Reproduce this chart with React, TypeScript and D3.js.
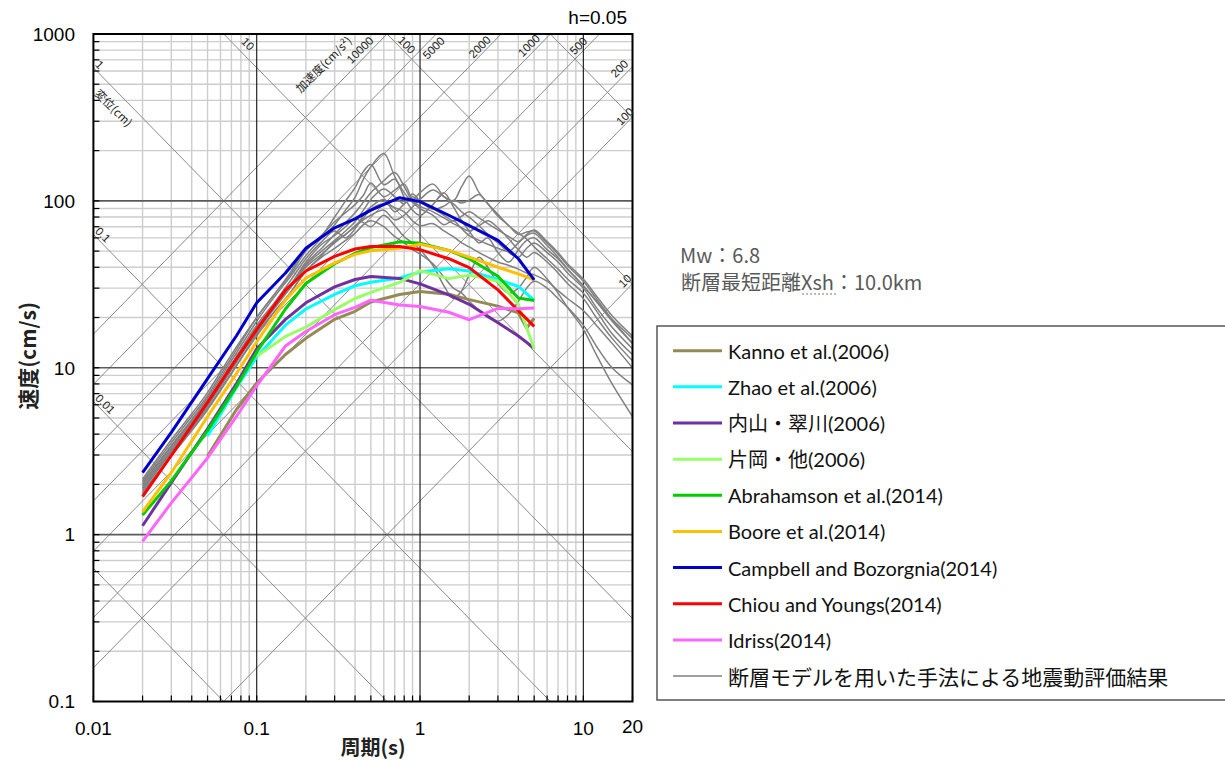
import React from 'react';
import * as d3 from 'd3';

// ---------------- data ----------------
const periods = [0.02, 0.03, 0.05, 0.075, 0.1, 0.15, 0.2, 0.3, 0.4, 0.5, 0.75, 1, 1.5, 2, 3, 4, 4.5, 5];

const kanno = [null, null, 2.96, 5.6, 8.1, 12.0, 15.0, 19.5, 21.8, 24.8, 27.5, 28.6, 27.6, 25.6, 23.4, 21.3, 17.3, 19.8];
const zhao = [null, null, 3.9, 7.6, 11.6, 18.0, 22.5, 27.5, 31.0, 32.5, 34.5, 37.5, 39.2, 38.0, 33.8, 30.7, null, 25.3];
const uchiyama = [1.13, 2.05, 4.3, 8.0, 13.0, 19.5, 24.5, 30.5, 33.8, 35.2, 34.3, 31.8, 27.3, 24.0, 18.6, 15.5, null, 13.1];
const kataoka = [null, null, null, null, 11.7, 15.4, 17.5, 22.3, 26.0, 28.3, 32.5, 38.2, 34.2, 36.0, 33.0, 24.0, null, 13.0];
const abrahamson = [1.31, 2.1, 4.2, 7.7, 12.4, 22.5, 32.0, 42.0, 48.5, 52.5, 56.8, 55.8, 50.5, 45.0, 35.3, 26.2, null, 25.3];
const boore = [1.37, 2.35, 5.1, 9.2, 14.3, 25.5, 34.5, 42.5, 47.8, 50.2, 52.0, 55.0, 50.5, 46.0, 40.0, 36.5, null, 33.6];
const campbell = [2.35, 4.1, 8.6, 15.5, 24.5, 37.0, 52.0, 69.0, 78.0, 88.0, 104.5, 99.0, 82.0, 71.0, 58.0, 45.0, null, 33.6];
const chiou = [1.69, 2.98, 6.2, 11.3, 16.9, 29.2, 38.0, 46.5, 51.5, 53.3, 53.3, 51.0, 45.0, 39.8, 29.3, 22.0, null, 17.7];
const idriss = [0.91, 1.55, 2.88, 5.1, 7.8, 13.5, 16.5, 20.8, 23.0, 25.4, 23.8, 23.3, 21.5, 19.4, 22.7, 22.6, null, 22.8];

const gmpeNames = [
  'Kanno et al.(2006)', 'Zhao et al.(2006)', '内山・翠川(2006)', '片岡・他(2006)',
  'Abrahamson et al.(2014)', 'Boore et al.(2014)', 'Campbell and Bozorgnia(2014)',
  'Chiou and Youngs(2014)', 'Idriss(2014)',
];
const gmpeColors = ['#948A54', '#00FFFF', '#7030A0', '#99FF66', '#00CC00', '#FFC000', '#0000CC', '#FF0000', '#FF66FF'];
const gmpeValues = [kanno, zhao, uchiyama, kataoka, abrahamson, boore, campbell, chiou, idriss];

const faultName = '断層モデルを用いた手法による地震動評価結果';
const faultColor = '#808080';
const faultPeriods = [0.02, 0.03, 0.04, 0.05, 0.07, 0.1, 0.13, 0.16, 0.2, 0.25, 0.3, 0.35, 0.4, 0.45, 0.5, 0.6, 0.7, 0.8, 0.9, 1, 1.2, 1.4, 1.6, 1.8, 2, 2.3, 2.6, 3, 3.5, 4, 4.5, 5, 6, 7, 8, 10, 12, 15, 20];
const fault1 = [2.0, 3.4, 4.9, 6.6, 11, 19, 27, 35, 47, 60, 72, 88, 105, 135, 160, 192, 140, 112, 98, 90, 82, 72, 76, 68, 62, 58, 55, 52, 50, 56, 62, 64, 54, 46, 39, 31, 25, 19, 14];
const fault2 = [2.15, 3.7, 5.3, 7.1, 12, 20, 28, 37, 52, 62, 80, 100, 120, 150, 165, 125, 135, 105, 88, 82, 95, 112, 92, 76, 66, 56, 60, 49, 43, 51, 58, 60, 51, 45, 39, 31, 25, 19.5, 15];
const fault3 = [1.9, 3.2, 4.6, 6.1, 10, 17, 24, 31, 42, 52, 63, 74, 85, 98, 112, 132, 148, 122, 102, 112, 126, 106, 96, 86, 80, 71, 63, 56, 49, 46, 52, 56, 49, 43, 37, 30, 23, 17.5, 13];
const fault4 = [1.85, 3.1, 4.4, 5.9, 9.7, 16.5, 23, 30, 40, 48, 56, 63, 70, 77, 82, 88, 77, 82, 92, 102, 116, 106, 100, 122, 141, 112, 96, 81, 71, 63, 65, 66, 56, 48, 41, 33, 26, 19.5, 14];
const fault5 = [2.05, 3.4, 4.8, 6.4, 10.5, 18, 25, 33, 45, 57, 66, 60, 68, 82, 92, 102, 86, 96, 106, 99, 89, 93, 101, 97, 101, 109, 96, 83, 71, 64, 59, 53, 45, 39, 34, 28, 22, 16, 12];
const fault6 = [1.8, 3.0, 4.3, 5.7, 9.3, 15.5, 22, 28, 38, 46, 52, 58, 64, 72, 76, 70, 61, 56, 51, 48, 42, 35, 30, 28, 25, 22, 20, 19, 21, 25, 30, 33, 30, 26, 23, 18, 13.5, 10, 7.9];
const fault7 = [1.95, 3.3, 4.7, 6.2, 10.2, 17.5, 24, 31, 43, 55, 62, 70, 78, 74, 70, 82, 71, 61, 56, 51, 41, 31, 26, 29, 36, 46, 40, 32, 28, 30, 35, 40, 34, 28, 23, 17, 12, 8, 5.1];
const fault8 = [1.9, 3.15, 4.5, 6.0, 10, 17, 23.5, 30, 41, 50, 58, 66, 75, 88, 102, 118, 106, 96, 110, 100, 90, 82, 76, 81, 86, 79, 73, 67, 61, 57, 63, 67, 57, 49, 42, 34, 27, 20.5, 15.5];
const fault9 = [2.1, 3.55, 5.1, 6.8, 11.5, 20, 28, 36, 50, 62, 75, 85, 95, 108, 128, 106, 116, 126, 101, 93, 86, 79, 73, 69, 66, 71, 76, 69, 59, 51, 46, 49, 43, 37, 32, 26, 20, 15, 11];
const fault10 = [1.75, 2.95, 4.2, 5.6, 9.2, 16, 22, 28, 38, 47, 57, 63, 71, 79, 89, 96, 91, 86, 76, 71, 73, 66, 61, 56, 53, 49, 46, 43, 41, 39, 37, 36, 33, 29, 26, 22, 18, 14, 10];
const faultValues = [fault1, fault2, fault3, fault4, fault5, fault6, fault7, fault8, fault9, fault10];

// tripartite guide lines
const dispLines = [0.001, 0.01, 0.1, 1, 10, 100, 1000]; // cm
const accLines = [10, 100, 200, 500, 1000, 2000, 5000, 10000]; // cm/s2

const yTickLabels = ['0.1', '1', '10', '100', '1000'];
const xTickLabels = ['0.01', '0.1', '1', '10', '20'];

// ---------------- component ----------------
const LATIN = "'Liberation Sans', Arial, sans-serif";
const JP = "'Noto Sans CJK JP', sans-serif";
const LEG = "Lato, 'Noto Sans CJK JP', sans-serif";

export default function App() {
  const x = d3.scaleLog().domain([0.01, 20]).range([93.4, 632.5]);
  const y = d3.scaleLog().domain([0.1, 1000]).range([701.5, 34]);
  const L = 93.4, R = 632.5, T = 34, B = 701.5;
  const TWO_PI = 2 * Math.PI;
  const isMajor = (v: number) => Math.abs(Math.log10(v) - Math.round(Math.log10(v))) < 1e-6;

  const xTicks = x.ticks();
  const yTicks = y.ticks();

  const line = d3.line<[number, number]>().x(d => x(d[0])).y(d => y(d[1]));
  const smooth = d3.line<[number, number]>().x(d => x(d[0])).y(d => y(d[1])).curve(d3.curveCatmullRom.alpha(0.5));

  const dispPath = (D: number) => line([[0.003, TWO_PI * D / 0.003], [60, TWO_PI * D / 60]]);
  const accPath = (A: number) => line([[0.003, A * 0.003 / TWO_PI], [60, A * 60 / TWO_PI]]);

  const dLeft = (D: number) => [x(0.01), y(TWO_PI * D / 0.01)];
  const dTop = (D: number) => [x(TWO_PI * D / 1000), y(1000)];
  const aTop = (A: number) => [x(TWO_PI * 1000 / A), y(1000)];
  const aRight = (A: number) => [x(20), y(A * 20 / TWO_PI)];

  const diagFont = 11.5;
  const diagColor = '#222';

  const dispLeftLabels = [
    { v: 1, text: '1' }, { v: 0.1, text: '0.1' }, { v: 0.01, text: '0.01' },
  ];
  const dispTopLabels = [
    { v: 10, text: '10', dx: 24, dy: 10 }, { v: 100, text: '100', dx: 19.5, dy: 11 },
  ];
  const accTopLabels = [
    { v: 10000, text: '10000', dx: -27, dy: 16 },
    { v: 5000, text: '5000', dx: -2.5, dy: 14 },
    { v: 2000, text: '2000', dx: -21.5, dy: 13 },
    { v: 1000, text: '1000', dx: -21.5, dy: 11.5 },
    { v: 500, text: '500', dx: -21, dy: 12 },
  ];
  const accRightLabels = [
    { v: 200, text: '200', dx: -13, dy: 2 },
    { v: 100, text: '100', dx: -7.5, dy: -0.5 },
    { v: 10, text: '10', dx: -7.5, dy: -3 },
  ];

  const gmpeSeries = gmpeValues.map(vals =>
    periods.map((p, i) => [p, vals[i]] as [number, number | null]).filter(d => d[1] != null) as [number, number][]
  );
  const faultSeries = faultValues.map(vals => faultPeriods.map((p, i) => [p, vals[i]] as [number, number]));

  const legendItems = [
    ...gmpeNames.map((n, i) => ({ name: n, color: gmpeColors[i], w: 3 })),
    { name: faultName, color: faultColor, w: 1.5 },
  ];
  const legTop = 350.7, legStep = 36.15;

  const [d1x, d1y] = dLeft(1);
  const [a4x, a4y] = aTop(10000);

  return (
    <svg width={1225} height={762} viewBox="0 0 1225 762"
      style={{ position: 'absolute', left: 0, top: 0, background: '#fff' }}>
      <defs>
        <clipPath id="plotClip">
          <rect x={L} y={T} width={R - L} height={B - T} />
        </clipPath>
      </defs>
      <rect x={0} y={0} width={1225} height={762} fill="#fff" />

      {/* minor grid */}
      <g>
        {xTicks.filter(v => !isMajor(v)).map(v => (
          <line key={'xm' + v} x1={x(v)} x2={x(v)} y1={T} y2={B} stroke="#cdcdcd" strokeWidth={1.4} />
        ))}
        {yTicks.filter(v => !isMajor(v)).map(v => (
          <line key={'ym' + v} x1={L} x2={R} y1={y(v)} y2={y(v)} stroke="#cdcdcd" strokeWidth={1.4} />
        ))}
      </g>

      {/* diagonal guide lines */}
      <g clipPath="url(#plotClip)" stroke="#8a8a8a" strokeWidth={1} fill="none">
        {dispLines.map(D => <path key={'d' + D} d={dispPath(D) || ''} />)}
        {accLines.map(A => <path key={'a' + A} d={accPath(A) || ''} />)}
      </g>

      {/* major grid */}
      <g>
        {yTicks.filter(v => isMajor(v) && v > 0.1 && v < 1000).map(v => (
          <line key={'yM' + v} x1={L} x2={R} y1={y(v)} y2={y(v)} stroke="#5a5a5a" strokeWidth={1.6} />
        ))}
        {xTicks.filter(v => isMajor(v) && v > 0.01).map(v => (
          <line key={'xM' + v} x1={x(v)} x2={x(v)} y1={T} y2={B} stroke="#111" strokeWidth={1.1} />
        ))}
      </g>

      {/* fault model results */}
      <g clipPath="url(#plotClip)" fill="none">
        {faultSeries.map((s, i) => (
          <path key={'f' + i} d={smooth(s) || ''} stroke={faultColor} strokeWidth={1.5} />
        ))}
      </g>

      {/* GMPE curves */}
      <g clipPath="url(#plotClip)" fill="none" strokeLinejoin="round">
        {gmpeSeries.map((s, i) => (
          <path key={'g' + i} d={line(s) || ''} stroke={gmpeColors[i]} strokeWidth={3} />
        ))}
      </g>

      {/* axis ticks */}
      <g stroke="#000" strokeWidth={1.2}>
        {yTicks.map(v => <line key={'yt' + v} x1={L} x2={L + 6} y1={y(v)} y2={y(v)} />)}
        {xTicks.map(v => <line key={'xt' + v} x1={x(v)} x2={x(v)} y1={B} y2={B - 6} />)}
      </g>

      {/* frame */}
      <rect x={L} y={T} width={R - L} height={B - T} fill="none" stroke="#000" strokeWidth={2} />

      {/* diagonal labels */}
      <g fontFamily={LATIN} fontSize={diagFont} fill={diagColor}>
        {dispLeftLabels.map(l => {
          const [px, py] = dLeft(l.v);
          const ax = px + 1, ay = py - 2.5;
          return <text key={'dl' + l.v} x={ax} y={ay} transform={`rotate(45 ${ax} ${ay})`}>{l.text}</text>;
        })}
        {dispTopLabels.map(l => {
          const [px, py] = dTop(l.v);
          const cx = px + l.dx, cy = py + l.dy;
          return <text key={'dt' + l.v} x={cx} y={cy} textAnchor="middle" dominantBaseline="central"
            transform={`rotate(45 ${cx} ${cy})`}>{l.text}</text>;
        })}
        {accTopLabels.map(l => {
          const [px, py] = aTop(l.v);
          const cx = px + l.dx, cy = py + l.dy;
          return <text key={'at' + l.v} x={cx} y={cy} textAnchor="middle" dominantBaseline="central"
            transform={`rotate(-45 ${cx} ${cy})`}>{l.text}</text>;
        })}
        {accRightLabels.map(l => {
          const [px, py] = aRight(l.v);
          const cx = px + l.dx, cy = py + l.dy;
          return <text key={'ar' + l.v} x={cx} y={cy} textAnchor="middle" dominantBaseline="central"
            transform={`rotate(-45 ${cx} ${cy})`}>{l.text}</text>;
        })}
        <text x={d1x + 20.6} y={d1y + 39.7} textAnchor="middle" dominantBaseline="central" fontFamily={JP}
          transform={`rotate(45 ${d1x + 20.6} ${d1y + 39.7})`}>変位(cm)</text>
        <text x={a4x - 64} y={a4y + 30} textAnchor="middle" dominantBaseline="central" fontFamily={JP}
          transform={`rotate(-45 ${a4x - 64} ${a4y + 30})`}>加速度(cm/s²)</text>
      </g>

      {/* tick labels */}
      <g fontFamily={LATIN} fontSize={19} fill="#000">
        {yTickLabels.map(t => (
          <text key={'yl' + t} x={75} y={y(+t) + 6.8} textAnchor="end">{t}</text>
        ))}
        {xTickLabels.map(t => (
          <text key={'xl' + t} x={x(+t)} y={t === '20' ? 732.5 : 734.6} textAnchor="middle">{t}</text>
        ))}
        <text x={627} y={24} textAnchor="end">h=0.05</text>
      </g>

      {/* axis titles */}
      <text x={373} y={755} textAnchor="middle" fontFamily={JP} fontSize={20} fontWeight={700} fill="#222">周期(s)</text>
      <text x={0} y={0} textAnchor="middle" dominantBaseline="central" fontFamily={JP} fontSize={21} fontWeight={700} fill="#222"
        transform="translate(27 356) rotate(-90)">速度(cm/s)</text>

      {/* condition text */}
      <g fontFamily={JP} fontSize={20} fill="#595959">
        <text x={680} y={263}>Mw：6.8</text>
        <text x={681} y={290}>断層最短距離Xsh：10.0km</text>
        <line x1={802} x2={838} y1={294} y2={294} stroke="#777" strokeWidth={1} strokeDasharray="2,2" />
      </g>

      {/* legend */}
      <g>
        <rect x={657} y={326} width={600} height={374} fill="#fff" stroke="#555" strokeWidth={1.5} />
        {legendItems.map((it, i) => {
          const cy = legTop + i * legStep;
          return (
            <g key={'leg' + i}>
              <line x1={673} x2={722} y1={cy} y2={cy} stroke={it.color} strokeWidth={it.w} />
              <text x={728} y={cy} dominantBaseline="central" fontFamily={LEG}
                fontSize={i === legendItems.length - 1 ? 21 : 20} fill="#111">{it.name}</text>
            </g>
          );
        })}
      </g>
    </svg>
  );
}
